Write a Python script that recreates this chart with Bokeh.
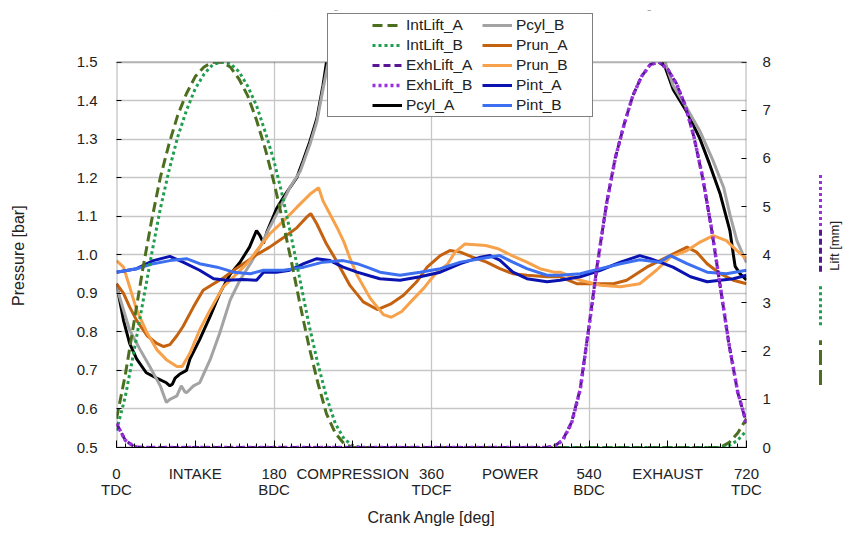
from bokeh.plotting import figure
from bokeh.models import Range1d, LinearAxis, FixedTicker, PrintfTickFormatter, Legend, LegendItem, BoxAnnotation
from bokeh.layouts import row
from bokeh.embed import file_html
from bokeh.resources import INLINE
from bokeh.core.properties import value
import math

# ---------------- data ----------------
int_ang = [0, 10, 20, 30, 40, 50, 60, 70, 80, 90, 100, 110, 120, 130, 140, 150, 160, 170, 180,
           190, 200, 210, 220, 230, 240, 250, 260, 270, 280, 690, 700, 710, 720]
int_lift_a = [0.6, 1.5, 2.6, 3.7, 4.7, 5.6, 6.3, 6.9, 7.35, 7.7, 7.9, 8.0, 8.0, 7.9, 7.65, 7.3, 6.8, 6.2, 5.5,
              4.7, 3.85, 2.95, 2.1, 1.35, 0.7, 0.3, 0.08, 0.0, 0.0, 0.0, 0.1, 0.3, 0.6]
int_lift_b = [0.35, 1.05, 2.0, 3.0, 4.0, 4.95, 5.75, 6.45, 7.0, 7.45, 7.75, 7.95, 8.0, 7.97, 7.8, 7.5, 7.1, 6.55, 5.95,
              5.2, 4.35, 3.45, 2.55, 1.75, 1.05, 0.5, 0.18, 0.04, 0.0, 0.0, 0.04, 0.15, 0.35]

exh_ang = [0, 10, 20, 30, 490, 500, 510, 520, 530, 540, 550, 560, 570, 580, 590, 600, 610, 620,
           630, 640, 650, 660, 670, 680, 690, 700, 710, 720]
exh_lift_a = [0.5, 0.15, 0.02, 0.0, 0.0, 0.02, 0.16, 0.52, 1.22, 2.52, 3.87, 5.06, 6.01, 6.7, 7.3, 7.7, 7.95, 8.0,
              7.85, 7.55, 7.1, 6.44, 5.59, 4.54, 3.34, 2.14, 1.14, 0.5]
exh_lift_b = [0.5, 0.15, 0.02, 0.0, 0.0, 0.02, 0.15, 0.5, 1.2, 2.5, 3.85, 5.05, 6.0, 6.7, 7.3, 7.7, 7.95, 8.0,
              7.85, 7.55, 7.1, 6.45, 5.6, 4.55, 3.35, 2.15, 1.15, 0.5]

pcyl_a_ang = [0, 8, 15, 23, 34, 46, 57, 61, 64, 67, 72, 80, 84, 95, 107, 118, 130, 141, 152, 160, 164, 168,
              172, 183, 191, 198, 206, 213, 221, 229, 236, 240, 250, 270, 300, 330, 360, 390, 420, 480, 540,
              600, 620, 625, 636, 652, 667, 678, 690, 701, 705, 707, 713, 720]
pcyl_a = [0.925, 0.83, 0.77, 0.73, 0.694, 0.68, 0.668, 0.66, 0.665, 0.68, 0.69, 0.70, 0.73, 0.78, 0.84, 0.90,
          0.95, 0.98, 1.02, 1.063, 1.05, 1.03, 1.06, 1.12, 1.15, 1.174, 1.2, 1.243, 1.294, 1.354, 1.44, 1.5,
          1.62, 2.0, 3.2, 6.0, 12.0, 8.0, 5.0, 3.0, 2.2, 1.7, 1.55, 1.5, 1.43, 1.37, 1.30, 1.234, 1.157,
          1.063, 1.0, 0.97, 0.95, 0.935]

pcyl_b_ang = [0, 8, 15, 27, 38, 50, 57, 61, 69, 74, 78, 80, 88, 95, 107, 118, 130, 141, 153, 164, 175, 187,
              198, 210, 221, 229, 236, 242, 250, 270, 300, 330, 360, 390, 420, 480, 540, 600, 620, 627, 636,
              652, 667, 682, 694, 701, 709, 720]
pcyl_b = [0.917, 0.857, 0.805, 0.754, 0.71, 0.66, 0.617, 0.625, 0.634, 0.66, 0.645, 0.642, 0.66, 0.668, 0.728,
          0.797, 0.883, 0.934, 0.977, 1.02, 1.071, 1.123, 1.174, 1.217, 1.286, 1.346, 1.43, 1.5, 1.6, 1.95,
          3.1, 5.8, 11.5, 7.8, 4.9, 2.9, 2.15, 1.7, 1.56, 1.5, 1.44, 1.38, 1.32, 1.243, 1.174, 1.105, 1.037, 0.98]

prun_a_ang = [0, 8, 15, 23, 35, 46, 54, 61, 69, 76, 88, 99, 111, 122, 134, 145, 160, 175, 191, 206, 217, 222,
              229, 240, 250, 267, 282, 298, 313, 328, 343, 355, 370, 381, 393, 407, 423, 438, 453, 469, 492,
              507, 526, 545, 568, 583, 606, 629, 652, 663, 675, 690, 705, 720]
prun_a = [0.925, 0.9, 0.865, 0.83, 0.79, 0.77, 0.762, 0.767, 0.79, 0.814, 0.865, 0.908, 0.925, 0.94, 0.96,
          0.977, 1.0, 1.02, 1.045, 1.07, 1.097, 1.107, 1.08, 1.028, 0.99, 0.92, 0.878, 0.858, 0.872, 0.895,
          0.93, 0.968, 0.998, 1.011, 1.007, 0.994, 0.981, 0.964, 0.951, 0.947, 0.943, 0.943, 0.925, 0.925,
          0.925, 0.934, 0.968, 0.994, 1.02, 1.007, 0.977, 0.951, 0.934, 0.925]

prun_b_ang = [0, 8, 15, 23, 35, 46, 57, 69, 75, 84, 95, 107, 122, 137, 149, 160, 175, 191, 206, 221, 231, 236,
              252, 260, 267, 275, 290, 305, 314, 326, 340, 351, 363, 378, 387, 398, 422, 437, 452, 469, 484,
              500, 507, 530, 553, 576, 598, 617, 633, 652, 667, 682, 697, 709, 720]
prun_b = [0.985, 0.968, 0.917, 0.857, 0.797, 0.754, 0.728, 0.71, 0.71, 0.745, 0.805, 0.857, 0.917, 0.95, 0.977,
          1.01, 1.054, 1.088, 1.123, 1.157, 1.174, 1.14, 1.071, 1.033, 0.99, 0.947, 0.887, 0.845, 0.838, 0.853,
          0.887, 0.913, 0.947, 0.975, 1.007, 1.028, 1.024, 1.015, 0.998, 0.981, 0.964, 0.955, 0.955, 0.934,
          0.921, 0.917, 0.925, 0.96, 0.994, 1.011, 1.033, 1.05, 1.037, 1.011, 0.99]

pint_a_ang = [0, 23, 42, 61, 76, 95, 111, 126, 145, 160, 168, 183, 198, 214, 229, 244, 259, 275, 290, 301, 324,
              347, 370, 393, 416, 427, 438, 453, 469, 492, 507, 530, 553, 576, 598, 610, 621, 636, 656, 675,
              690, 705, 720]
pint_a = [0.955, 0.964, 0.985, 0.996, 0.981, 0.96, 0.938, 0.934, 0.936, 0.934, 0.955, 0.955, 0.96, 0.977, 0.99,
          0.985, 0.968, 0.955, 0.945, 0.938, 0.934, 0.943, 0.955, 0.977, 0.994, 0.998, 0.986, 0.955, 0.938,
          0.93, 0.934, 0.943, 0.96, 0.981, 0.998, 0.99, 0.981, 0.968, 0.943, 0.93, 0.934, 0.938, 0.947]

pint_b_ang = [0, 23, 42, 61, 80, 95, 115, 134, 153, 168, 191, 214, 236, 259, 275, 290, 301, 324, 347, 370, 393,
              416, 438, 453, 469, 492, 507, 530, 553, 576, 598, 621, 633, 652, 675, 697, 720]
pint_b = [0.955, 0.964, 0.977, 0.985, 0.99, 0.977, 0.968, 0.955, 0.951, 0.96, 0.96, 0.968, 0.981, 0.985, 0.977,
          0.965, 0.955, 0.947, 0.955, 0.964, 0.981, 0.99, 0.998, 0.981, 0.964, 0.947, 0.947, 0.951, 0.964,
          0.977, 0.987, 0.981, 0.998, 0.977, 0.955, 0.951, 0.96]

x_ticks = [0, 90, 180, 270, 360, 450, 540, 630, 720]
x_tick_labels = ["0\nTDC", "INTAKE", "180\nBDC", "COMPRESSION", "360\nTDCF", "POWER", "540\nBDC", "EXHAUST", "720\nTDC"]
p_ticks = [0.5, 0.6, 0.7, 0.8, 0.9, 1.0, 1.1, 1.2, 1.3, 1.4, 1.5]
lift_ticks = [0, 1, 2, 3, 4, 5, 6, 7, 8]
P_MIN, P_MAX = 0.5, 1.5
L_MIN, L_MAX = 0, 8

# ---------------- style / layout ----------------
FONT = "Liberation Sans"
TXT = "#222222"
W1, W2, H = 800, 43, 528
TOP, BOTTOM, LEFT, RIGHT = 10, 78, 116, 54
# frame is extended above the 1.5 bar line so the legend can sit over the chart's top edge
frame_h = H - TOP - BOTTOM
px_per_bar = (frame_h - 52) / (P_MAX - P_MIN)
p_top = P_MAX + 52 / px_per_bar
l_top = L_MIN + (p_top - P_MIN) / (P_MAX - P_MIN) * (L_MAX - L_MIN)

p = figure(width=W1, height=H, x_range=Range1d(0, 720), y_range=Range1d(P_MIN, p_top),
           output_backend="svg", toolbar_location=None,
           min_border_left=LEFT, min_border_right=RIGHT, min_border_top=TOP, min_border_bottom=BOTTOM)
p.background_fill_color = "white"
p.border_fill_color = "white"
p.outline_line_color = None

p.extra_y_ranges = {"lift": Range1d(L_MIN, l_top)}

xa = p.xaxis[0]
xa.ticker = FixedTicker(ticks=x_ticks, minor_ticks=list(range(0, 721, 10)))
xa.major_label_overrides = dict(zip(x_ticks, x_tick_labels))
xa.axis_label = "Crank Angle [deg]"

ya = p.yaxis[0]
ya.ticker = FixedTicker(ticks=p_ticks)
ya.formatter = PrintfTickFormatter(format="%.1f")
ya.axis_label = "Pressure [bar]" + "\u00a0" * 12

ra = LinearAxis(y_range_name="lift", ticker=FixedTicker(ticks=lift_ticks))
p.add_layout(ra, "right")

for ax in (xa, ya, ra):
    ax.axis_line_color = None
    ax.major_tick_line_color = "black"
    ax.minor_tick_line_color = "black"
    ax.major_tick_out = 0
    ax.minor_tick_out = 0
    ax.major_label_text_font = FONT
    ax.major_label_text_font_size = "15px"
    ax.major_label_text_color = TXT
    ax.axis_label_text_font = FONT
    ax.axis_label_text_font_size = "16px"
    ax.axis_label_text_font_style = "normal"
    ax.axis_label_text_color = TXT

xa.axis_line_color = "black"
xa.major_tick_in = 7
xa.minor_tick_in = 4
xa.major_label_standoff = 17
xa.major_label_text_line_height = 0.95
xa.axis_label_standoff = 8
ya.major_tick_in = 5
ya.minor_tick_line_color = None
ya.major_label_standoff = 19
ya.axis_label_standoff = 47
ra.major_tick_in = 5
ra.minor_tick_line_color = None
ra.major_label_standoff = 16

p.xgrid.ticker = FixedTicker(ticks=[180, 360, 540])
p.ygrid.ticker = FixedTicker(ticks=p_ticks[1:-1])
for g in (p.xgrid[0], p.ygrid[0]):
    g.grid_line_color = "#c6c6c6"
    g.grid_line_width = 1.3

LW = 3
r_pcyl_a = p.line(pcyl_a_ang, pcyl_a, line_color="#000000", line_width=LW)
r_pcyl_b = p.line(pcyl_b_ang, pcyl_b, line_color="#a3a3a3", line_width=LW)
r_prun_a = p.line(prun_a_ang, prun_a, line_color="#c4620f", line_width=LW)
r_prun_b = p.line(prun_b_ang, prun_b, line_color="#f7a24a", line_width=LW)
r_pint_a = p.line(pint_a_ang, pint_a, line_color="#0a12b0", line_width=LW)
r_pint_b = p.line(pint_b_ang, pint_b, line_color="#3d70f0", line_width=LW)

r_int_a = p.line(int_ang, int_lift_a, y_range_name="lift", line_color="#4b6e1f", line_width=LW, line_dash="10 5")
r_int_b = p.line(int_ang, int_lift_b, y_range_name="lift", line_color="#1f9e4f", line_width=LW, line_dash="3 3")
r_exh_a = p.line(exh_ang, exh_lift_a, y_range_name="lift", line_color="#5a1795", line_width=LW, line_dash="7 4")
r_exh_b = p.line(exh_ang, exh_lift_b, y_range_name="lift", line_color="#9b30e3", line_width=3.5, line_dash="3 3")

# hide everything above the 1.5 bar line, then draw the chart border
p.add_layout(BoxAnnotation(bottom=P_MAX, fill_color="white", fill_alpha=1.0, line_alpha=0))
p.add_layout(BoxAnnotation(left=0, right=720, bottom=P_MIN, top=P_MAX, fill_alpha=0,
                           line_color="black", line_width=2))

items = [
    LegendItem(label="IntLift_A", renderers=[r_int_a]),
    LegendItem(label="IntLift_B", renderers=[r_int_b]),
    LegendItem(label="ExhLift_A", renderers=[r_exh_a]),
    LegendItem(label="ExhLift_B", renderers=[r_exh_b]),
    LegendItem(label="Pcyl_A", renderers=[r_pcyl_a]),
    LegendItem(label="Pcyl_B", renderers=[r_pcyl_b]),
    LegendItem(label="Prun_A", renderers=[r_prun_a]),
    LegendItem(label="Prun_B" + "\u00a0" * 4, renderers=[r_prun_b]),
    LegendItem(label="Pint_A", renderers=[r_pint_a]),
    LegendItem(label="Pint_B", renderers=[r_pint_b]),
]
leg = Legend(items=items, ncols=2, location=(211, 330),
             title="\u00a0", title_location="left", title_text_font_size="10px", title_standoff=31,
             glyph_width=30, glyph_height=18, label_height=18, label_width=74, label_standoff=4, spacing=2,
             padding=2, margin=0, border_line_color="black", border_line_width=1,
             background_fill_color="white", background_fill_alpha=1.0,
             label_text_font=FONT, label_text_font_size="15.5px", label_text_color=TXT)
p.add_layout(leg)

# side key for the lift axis (positions in pixels from the top of the canvas)
key_colors = ["#9b30e3", "#5a1795", "#1f9e4f", "#4b6e1f"]
key_dash = ["3 3", "6 3", "3 3", "15 5"]
key_top = [173, 230, 287, 342]
key_bot = [227, 273, 327, 387]

# in a row, this figure's frame is aligned with the main frame (canvas y from TOP to H - BOTTOM)
p2 = figure(width=W2, height=H, x_range=Range1d(0, W2), y_range=Range1d(BOTTOM, H - TOP),
            output_backend="svg", toolbar_location=None,
            x_axis_location=None, y_axis_location=None,
            min_border_left=0, min_border_right=0, min_border_top=TOP, min_border_bottom=BOTTOM)
p2.outline_line_color = None
p2.xgrid.visible = False
p2.ygrid.visible = False
for c, d, t, b in zip(key_colors, key_dash, key_top, key_bot):
    p2.line([20, 20], [H - b, H - t], line_color=c, line_width=3, line_dash=d)
p2.text(x=[34], y=[H - 247], text=["Lift [mm]"], angle=math.pi / 2,
        text_align="center", text_baseline="middle",
        text_font=value(FONT), text_font_size="13px", text_color=TXT)

layout = row(p, p2)
open("out.html", "w").write(file_html(layout, INLINE))
